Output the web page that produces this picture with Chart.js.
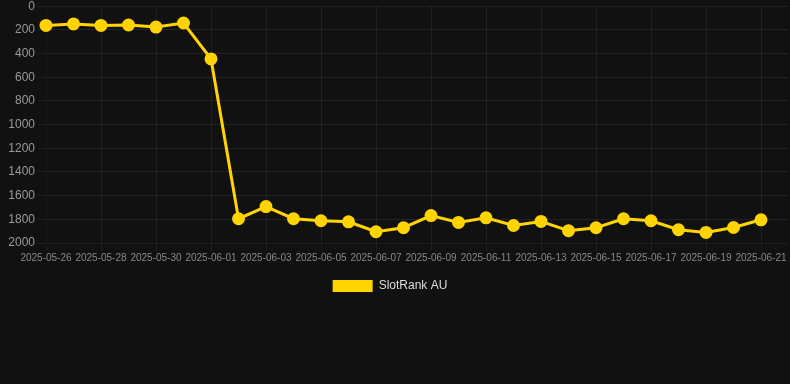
<!DOCTYPE html>
<html>
<head>
<meta charset="utf-8">
<script src="https://cdn.jsdelivr.net/npm/chart.js@4.4.1/dist/chart.umd.min.js"></script>
<style>
  html, body { margin: 0; padding: 0; background: #111111; overflow: hidden; }
  #wrap { width: 790px; height: 306px; position: relative; margin-top: -4px; }
</style>
</head>
<body>
<div id="wrap"><canvas id="c"></canvas></div>
<script>
const categories = [
  "2025-05-26","2025-05-27","2025-05-28","2025-05-29","2025-05-30","2025-05-31",
  "2025-06-01","2025-06-02","2025-06-03","2025-06-04","2025-06-05","2025-06-06",
  "2025-06-07","2025-06-08","2025-06-09","2025-06-10","2025-06-11","2025-06-12",
  "2025-06-13","2025-06-14","2025-06-15","2025-06-16","2025-06-17","2025-06-18",
  "2025-06-19","2025-06-20","2025-06-21","2025-06-22"
];
const slotRankAU = [
  162, 150, 162, 159, 176, 142,
  445, 1795, 1692, 1795, 1812, 1821,
  1905, 1871, 1768, 1826, 1787, 1852,
  1818, 1896, 1871, 1795, 1812, 1888,
  1911, 1869, 1804, null
];
const seriesName = "SlotRank AU";
const yMin = 0, yMax = 2000, yStep = 200;

const gold = "#FFD400";
const legendShift = {
  id: "legendShift",
  afterLayout(chart) {
    if (chart.legend) { chart.legend.left -= 5; chart.legend.right -= 5; }
  }
};
new Chart(document.getElementById("c"), {
  type: "line",
  data: {
    labels: categories,
    datasets: [{
      label: seriesName,
      data: slotRankAU,
      borderColor: gold,
      backgroundColor: gold,
      borderWidth: 3,
      pointRadius: 5,
      pointHoverRadius: 5,
      pointBackgroundColor: gold,
      pointBorderColor: gold,
      tension: 0,
      spanGaps: false
    }]
  },
  plugins: [legendShift],
  options: {
    responsive: true,
    maintainAspectRatio: false,
    animation: false,
    layout: { autoPadding: false, padding: 0 },
    plugins: {
      legend: {
        position: "bottom",
        labels: {
          color: "#dddddd", boxWidth: 40, boxHeight: 12, padding: 15,
          font: { size: 12, family: "Liberation Sans, Arial, sans-serif" },
          generateLabels: (chart) => {
            const items = Chart.defaults.plugins.legend.labels.generateLabels(chart);
            items.forEach(it => { it.lineWidth = 0; });
            return items;
          }
        }
      },
      tooltip: { enabled: false }
    },
    scales: {
      x: {
        afterFit: (scale) => { scale.paddingRight = 1.5; },
        grid: {
          color: (ctx) => (ctx.index % 2 === 0 ? "rgba(255,255,255,0.06)" : "rgba(0,0,0,0)")
        },
        ticks: {
          autoSkip: false,
          maxRotation: 0,
          minRotation: 0,
          padding: 1,
          color: "#888888",
          font: { size: 10, family: "Liberation Sans, Arial, sans-serif" },
          callback: function(v, i) { return i % 2 === 0 && i < categories.length - 1 ? categories[i] : ""; }
        }
      },
      y: {
        reverse: true,
        min: yMin,
        max: yMax,
        afterFit: (scale) => { scale.width = 46; },
        grid: { color: "rgba(255,255,255,0.07)" },
        ticks: {
          stepSize: yStep,
          color: "#999999",
          font: { size: 12, family: "Liberation Sans, Arial, sans-serif" },
          callback: (v) => String(v)
        }
      }
    }
  }
});
</script>
</body>
</html>
